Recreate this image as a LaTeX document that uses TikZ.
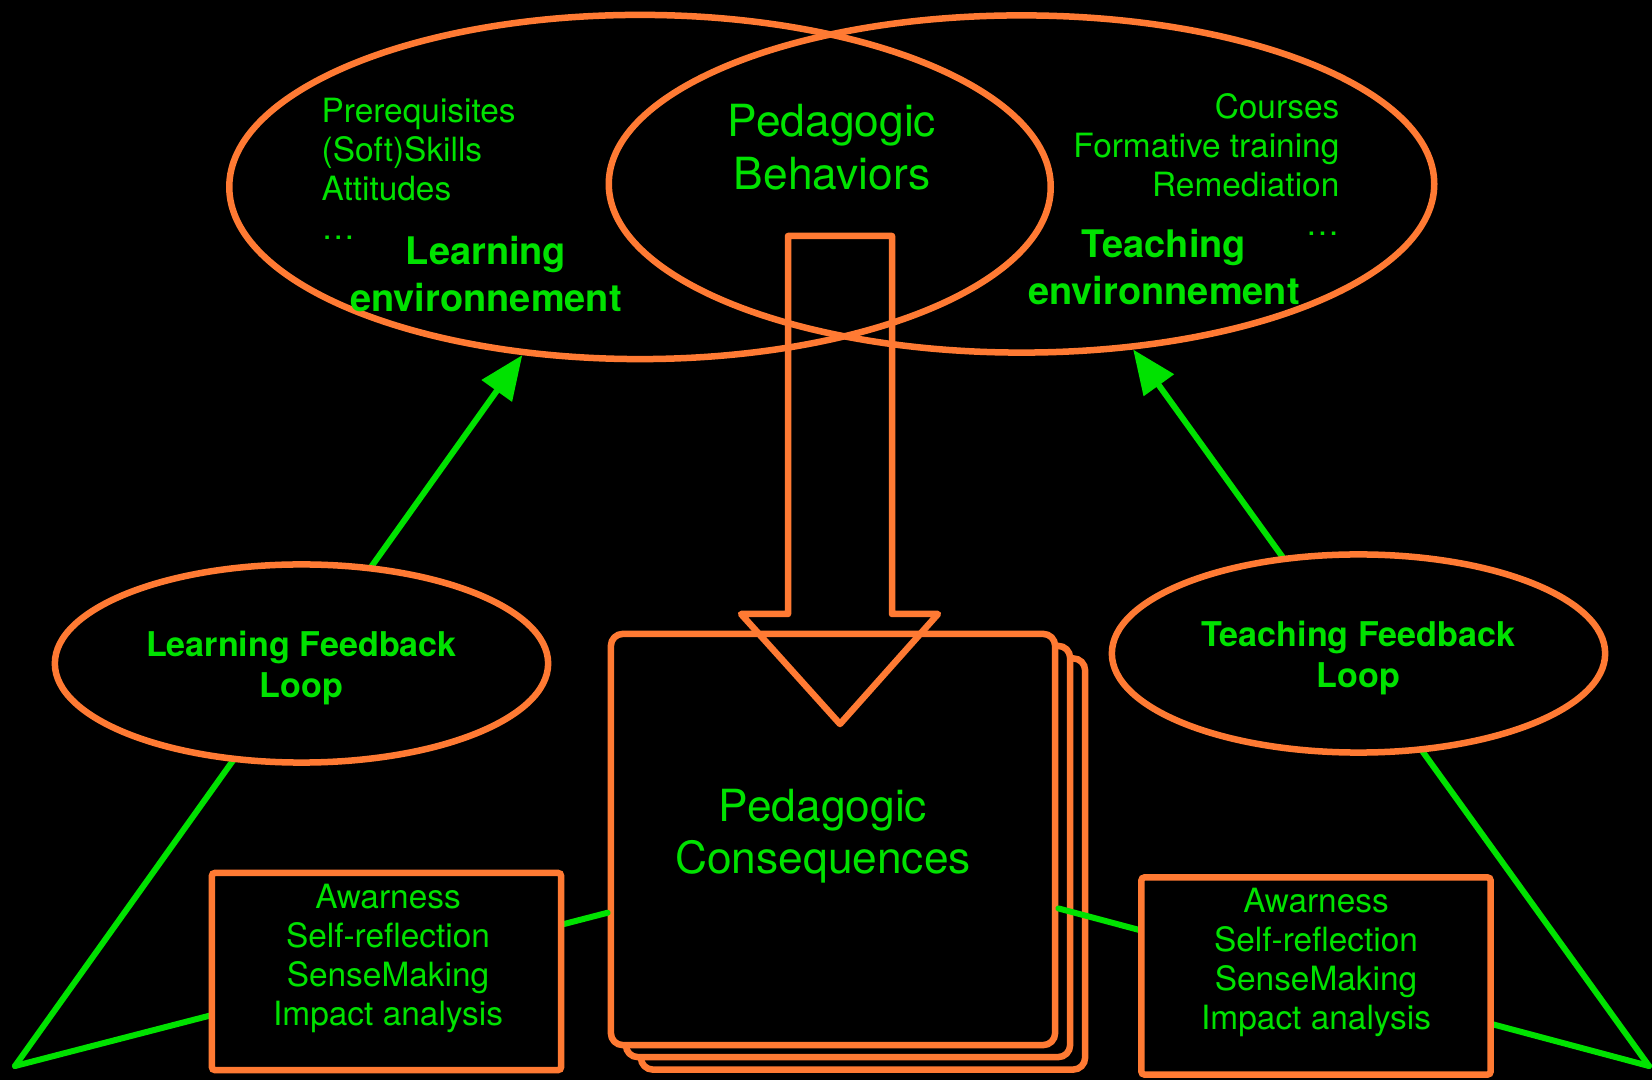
\documentclass[tikz,border=0pt]{standalone}
\usepackage{fontspec}
\setmainfont{TeX Gyre Heros}
\usepackage{xcolor}
\usepackage{tikz}
\usetikzlibrary{arrows.meta,shapes.geometric,positioning}

\definecolor{kOrange}{RGB}{255,122,51}
\definecolor{kGreen}{RGB}{0,226,0}

\begin{document}
\begin{tikzpicture}[
        x=0.01cm, y=-0.01cm,
        every node/.style={text=kGreen,inner sep=0pt},
        envshape/.style={ellipse,draw=kOrange,line width=0.065cm},
        loopshape/.style={ellipse,draw=kOrange,fill=black,line width=0.065cm,
            font=\fontsize{9.7}{11.7}\selectfont\bfseries,align=center,text height=0.76cm,
            minimum width=4.93cm,minimum height=1.98cm},
        pagebox/.style={rectangle,draw=kOrange,fill=black,line width=0.065cm,
            rounded corners=0.12cm,minimum width=4.44cm,minimum height=4.11cm},
        reflbox/.style={rectangle,draw=kOrange,fill=black,line width=0.065cm,
            rounded corners=0.03cm,minimum width=3.49cm,minimum height=1.97cm},
        listtext/.style={font=\fontsize{9.5}{11.1}\selectfont},
        bigtext/.style={font=\fontsize{12.6}{14.9}\selectfont,align=center},
        envtitle/.style={font=\fontsize{10.8}{13.1}\selectfont\bfseries,align=center},
        feed/.style={draw=kGreen,line width=0.06cm,line cap=round},
        >={Triangle[length=0.44cm,width=0.36cm]} % green arrow tips
    ]

        % background
        \fill[black] (0,0) rectangle (1652,1080);
        \useasboundingbox (0,0) rectangle (1652,1080);

        % environments (their overlap holds the behaviors)
        \node[envshape,minimum width=8.21cm,minimum height=3.44cm] (LE) at (640,187) {};
        \node[envshape,minimum width=8.25cm,minimum height=3.37cm] (TE) at (1021.5,184) {};

        \node[listtext,align=left,anchor=north west] (LEitems) at (321,97)
            {Prerequisites\\(Soft)Skills\\Attitudes\\…};
        \node[envtitle,anchor=north] (LEtitle) at (486,236) {Learning\\environnement};
        \node[bigtext,anchor=north] (PBtitle) at (832,104) {Pedagogic\\Behaviors};
        \node[listtext,align=right,anchor=north east] (TEitems) at (1340,93)
            {Courses\\Formative training\\Remediation\\…};
        \node[envtitle,anchor=north] (TEtitle) at (1164,229) {Teaching\\environnement};

        % consequences (stacked pages)
        \node[pagebox] (PC3) at (863,864) {};
        \node[pagebox] (PC2) at (848,851.5) {};
        \node[pagebox] (PC) at (833,839.5) {};
        \node[bigtext,anchor=north] (PCtitle) at (823,788) {Pedagogic\\Consequences};

        % big arrow
        \draw[kOrange,line width=0.065cm,line join=round]
            (788,236) -- (892,236) -- (892,614) -- (938,614) -- (840,724)
            -- (741,614) -- (788,614) -- cycle;

        % feedback lines
        \coordinate (Lapex) at (15,1066);
        \coordinate (Rapex) at (1649,1066);
        \draw[feed,->] (Lapex) -- (LE.235.5);
        \draw[feed] (Lapex) -- (PC.198);
        \draw[feed,->] (Rapex) -- (TE.304.7);
        \draw[feed] (Rapex) -- (PC.343);

        % loops and reflection boxes
        \node[loopshape] (LF) at (301.5,663.5) {Learning Feedback\\Loop};
        \node[loopshape] (TF) at (1358.5,653.5) {Teaching Feedback\\Loop};

        \node[reflbox] (LR) at (386.5,971.5) {};
        \node[listtext,align=center,anchor=north] (LRtext) at (388,883)
            {Awarness\\Self-reflection\\SenseMaking\\Impact analysis};
        \node[reflbox] (TR) at (1316,976) {};
        \node[listtext,align=center,anchor=north] (TRtext) at (1316,887)
            {Awarness\\Self-reflection\\SenseMaking\\Impact analysis};

    \end{tikzpicture}
\end{document}
